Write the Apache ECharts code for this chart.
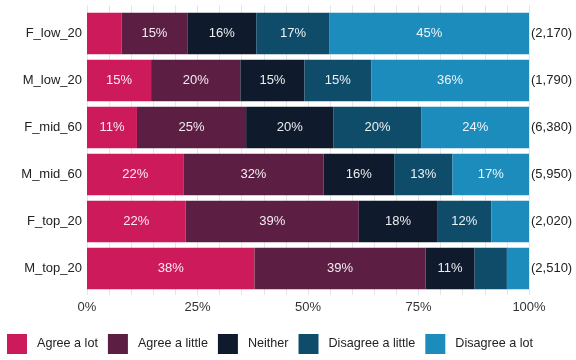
<!DOCTYPE html>
<html>
<head>
<meta charset="utf-8">
<script src="https://cdn.jsdelivr.net/npm/echarts@6/dist/echarts.min.js"></script>
<style>
  html, body { margin: 0; padding: 0; background: #ffffff; }
  #chart { width: 576px; height: 360px; }
</style>
</head>
<body>
<div id="chart"></div>
<script>
const categories = ["F_low_20", "M_low_20", "F_mid_60", "M_mid_60", "F_top_20", "M_top_20"];
const sampleSizes = ["(2,170)", "(1,790)", "(6,380)", "(5,950)", "(2,020)", "(2,510)"];
const responses = ["Agree a lot", "Agree a little", "Neither", "Disagree a little", "Disagree a lot"];
const xTicks = [0, 25, 50, 75, 100];

const agreeLot = [7.8, 14.5, 11.3, 21.8, 22.3, 37.9];
const agreeLittle = [14.9, 20.2, 24.7, 31.7, 39.2, 38.7];
const neither = [15.6, 14.5, 19.8, 16.0, 17.7, 11.1];
const disagreeLittle = [16.6, 15.1, 19.9, 13.2, 12.3, 7.3];
const disagreeLot = [45.1, 35.7, 24.3, 17.3, 8.5, 5.0];

const colors = ["#cc1a5b", "#5c1e43", "#0f1b2d", "#0f4c6a", "#1b8cbc"];

const chart = echarts.init(document.getElementById("chart"));
const font = "Liberation Sans, Arial, sans-serif";
const values = [agreeLot, agreeLittle, neither, disagreeLittle, disagreeLot];

const series = responses.map((name, i) => ({
  name: name,
  type: "bar",
  stack: "total",
  xAxisIndex: 1,
  yAxisIndex: 1,
  barCategoryGap: "12%",
  itemStyle: { color: colors[i] },
  label: {
    show: true,
    color: "rgba(255,255,255,0.92)",
    fontFamily: font,
    fontSize: 13,
    formatter: (p) => (p.value >= 10 ? Math.round(p.value) + "%" : "")
  },
  emphasis: { disabled: true },
  data: values[i]
}));

chart.setOption({
  animation: false,
  color: colors,
  textStyle: { fontFamily: font },
  grid: [
    { left: 87, right: 47, top: 5, bottom: 65 },
    { left: 87, right: 47, top: 10, bottom: 68 }
  ],
  xAxis: [
    {
      gridIndex: 0,
      type: "value",
      min: 0,
      max: 100,
      interval: 5,
      axisLine: { show: false },
      axisTick: { show: false },
      splitLine: { show: true, lineStyle: { color: "#e6e6e6", width: 1 } },
      axisLabel: {
        color: "#333",
        fontSize: 13,
        margin: 6,
        formatter: (v) => (xTicks.includes(v) ? v + "%" : "")
      }
    },
    {
      gridIndex: 1,
      type: "value",
      min: 0,
      max: 100,
      show: false
    }
  ],
  yAxis: [
    {
      gridIndex: 0,
      type: "value",
      show: false
    },
    {
      gridIndex: 1,
      type: "category",
      inverse: true,
      data: categories,
      axisLine: { show: false },
      axisTick: { show: false },
      axisLabel: { color: "#222", fontSize: 13, margin: 5 }
    },
    {
      gridIndex: 1,
      type: "category",
      inverse: true,
      position: "right",
      data: sampleSizes,
      axisLine: { show: false },
      axisTick: { show: false },
      axisLabel: { color: "#222", fontSize: 13, margin: 2 }
    }
  ],
  legend: {
    data: responses,
    left: 2,
    top: 329,
    icon: "rect",
    itemWidth: 20,
    itemHeight: 20,
    itemGap: 10,
    textStyle: { color: "#222", fontSize: 12.6, padding: [0, 0, 0, 5] }
  },
  series: series
});
</script>
</body>
</html>
